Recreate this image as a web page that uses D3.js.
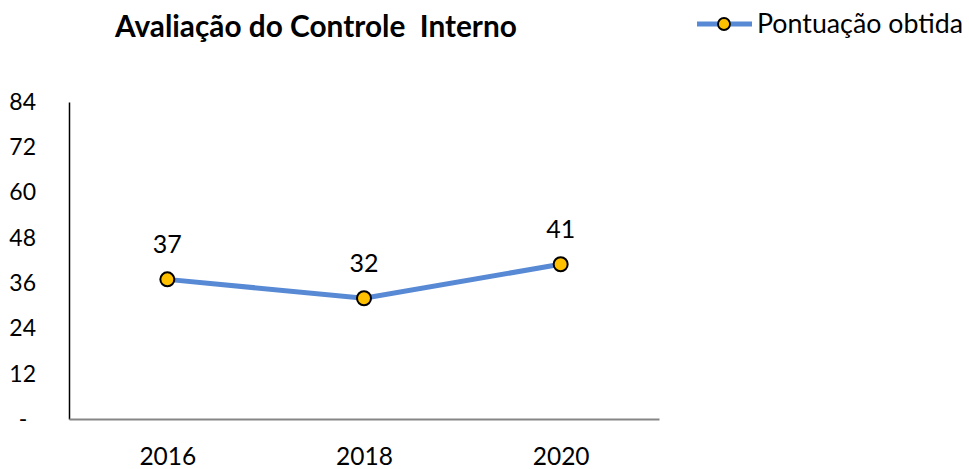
<!DOCTYPE html>
<html>
<head>
<meta charset="utf-8">
<script src="https://cdn.jsdelivr.net/npm/d3@7"></script>
<style>
  body { margin: 0; background: #fff; }
  svg { font-family: Lato, "Open Sans", sans-serif; }
</style>
</head>
<body>
<div class="chart"></div>
<script>
// Data
var years = ["2016", "2018", "2020"];
var scores = [37, 32, 41];
var yTicks = [0, 12, 24, 36, 48, 60, 72, 84];
var seriesName = "Pontuação obtida";
var title = "Avaliação do Controle  Interno";

var width = 969, height = 469;
var lineColor = "#5889d4", markerColor = "#ffc000";

var svg = d3.select(".chart")
  .append("svg")
  .attr("width", width)
  .attr("height", height);

// scales
var x = d3.scalePoint().domain(years).range([69, 659]).padding(0.5);
var y = d3.scaleLinear().domain([0, 84]).range([419, 102]);

// fit a text to a target width by changing its font size
function fitText(t, target) {
  var size = parseFloat(t.attr("font-size"));
  var w = t.node().getComputedTextLength();
  t.attr("font-size", (size * target / w).toFixed(2));
}

// title
var tt = svg.append("text")
  .attr("x", 115).attr("y", 37)
  .attr("font-size", 24).attr("font-weight", "bold")
  .attr("fill", "#000")
  .style("white-space", "pre")
  .text(title);
fitText(tt, 402);

// legend
var lg = svg.append("g");
lg.append("line")
  .attr("x1", 697).attr("x2", 752).attr("y1", 24).attr("y2", 24)
  .attr("stroke", lineColor).attr("stroke-width", 5);
lg.append("circle")
  .attr("cx", 724).attr("cy", 24).attr("r", 6)
  .attr("fill", markerColor).attr("stroke", "#000").attr("stroke-width", 1.8);
var lt = lg.append("text")
  .attr("x", 757).attr("y", 33)
  .attr("font-size", 24).attr("fill", "#000")
  .text(seriesName);
fitText(lt, 206);

// y axis
var yAxis = svg.append("g")
  .attr("transform", "translate(69,0)")
  .call(d3.axisLeft(y).tickValues(yTicks).tickSize(0).tickSizeOuter(0)
    .tickFormat(function(d) { return d === 0 ? "-" : d; }));
yAxis.select(".domain").attr("stroke", "#000").attr("stroke-width", 1.5);
yAxis.selectAll("text")
  .attr("x", -33).attr("text-anchor", "end")
  .attr("font-size", 23).attr("font-family", "Lato, sans-serif").attr("fill", "#000");
yAxis.selectAll("text").filter(function(d) { return d === 0; })
  .attr("x", -46).attr("text-anchor", "middle");

// x axis
var xAxis = svg.append("g")
  .attr("transform", "translate(0,419)")
  .call(d3.axisBottom(x).tickSize(0).tickSizeOuter(0));
xAxis.select(".domain").attr("stroke", "#868686").attr("stroke-width", 2);
xAxis.selectAll("text")
  .attr("y", 46).attr("dy", 0)
  .attr("font-size", 24.5).attr("font-family", "Lato, sans-serif").attr("fill", "#000");

// line
var line = d3.line()
  .x(function(d, i) { return x(years[i]); })
  .y(function(d) { return y(d); });

svg.append("path")
  .datum(scores)
  .attr("d", line)
  .attr("fill", "none")
  .attr("stroke", lineColor)
  .attr("stroke-width", 5);

svg.selectAll(".pt")
  .data(scores)
  .enter()
  .append("circle")
    .attr("class", "pt")
    .attr("cx", function(d, i) { return x(years[i]); })
    .attr("cy", function(d) { return y(d); })
    .attr("r", 7)
    .attr("fill", markerColor)
    .attr("stroke", "#000")
    .attr("stroke-width", 2);

// data labels
svg.selectAll(".lbl")
  .data(scores)
  .enter()
  .append("text")
    .attr("class", "lbl")
    .attr("x", function(d, i) { return x(years[i]); })
    .attr("y", function(d) { return y(d) - 26; })
    .attr("text-anchor", "middle")
    .attr("font-size", 25)
    .attr("fill", "#000")
    .text(function(d) { return d; });
</script>
</body>
</html>
